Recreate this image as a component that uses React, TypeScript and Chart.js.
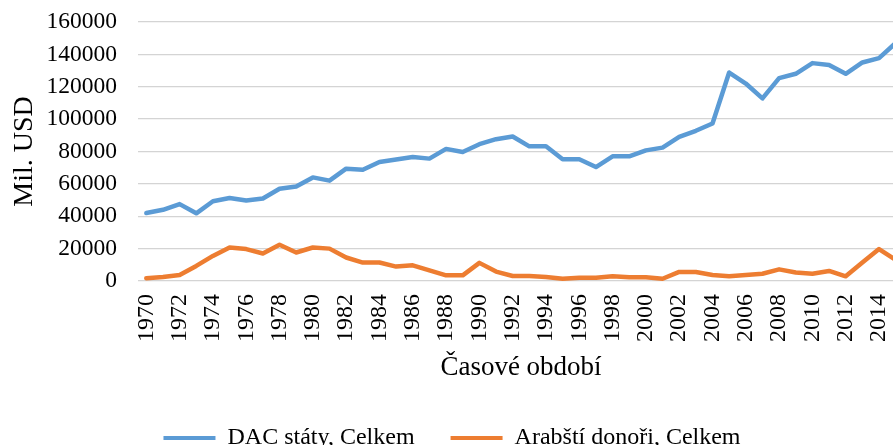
import React, { useEffect, useRef } from 'react';
import { Chart, registerables } from 'chart.js';

Chart.register(...registerables);

const years = [
  '1970', '1971', '1972', '1973', '1974', '1975', '1976', '1977', '1978', '1979',
  '1980', '1981', '1982', '1983', '1984', '1985', '1986', '1987', '1988', '1989',
  '1990', '1991', '1992', '1993', '1994', '1995', '1996', '1997', '1998', '1999',
  '2000', '2001', '2002', '2003', '2004', '2005', '2006', '2007', '2008', '2009',
  '2010', '2011', '2012', '2013', '2014', '2015',
];

const dacValues = [
  42000, 44000, 47500, 41800, 49300, 51300, 49700, 51000, 57000, 58400,
  64000, 62000, 69400, 68700, 73500, 75000, 76600, 75600, 81600, 79700,
  84500, 87600, 89300, 83200, 83200, 75200, 75200, 70400, 77000, 77000,
  80700, 82400, 89000, 92800, 97300, 128800, 122000, 112800, 125300, 128000,
  134600, 133500, 128000, 135000, 137700, 147000,
];

const arabValues = [
  1700, 2500, 3700, 9300, 15500, 20700, 19700, 17000, 22400, 17600,
  20700, 20000, 14500, 11400, 11400, 8900, 9700, 6600, 3500, 3500,
  11200, 5800, 3100, 3100, 2500, 1400, 2000, 2000, 2900, 2300,
  2300, 1400, 5600, 5600, 3700, 2900, 3700, 4500, 7200, 5200,
  4500, 6200, 2900, 11400, 19700, 13000,
];

const seriesNames = ['DAC státy, Celkem', 'Arabští donoři, Celkem'];
const seriesColors = ['#5B9BD5', '#ED7D31'];

const yMin = 0;
const yMax = 160000;
const yStep = 20000;

const xTitle = 'Časové období';
const yTitle = 'Mil. USD';

const FONT = "'Liberation Serif', 'Times New Roman', serif";

export default function App() {
  const ref = useRef<HTMLCanvasElement>(null);

  useEffect(() => {
    if (!ref.current) return;
    const chart = new Chart(ref.current, {
      type: 'line',
      data: {
        labels: years,
        datasets: [
          {
            label: seriesNames[0],
            data: dacValues,
            borderColor: seriesColors[0],
            backgroundColor: seriesColors[0],
            borderWidth: 4.5,
            pointRadius: 0,
            tension: 0,
            borderJoinStyle: 'round',
            borderCapStyle: 'round',
          },
          {
            label: seriesNames[1],
            data: arabValues,
            borderColor: seriesColors[1],
            backgroundColor: seriesColors[1],
            borderWidth: 4.5,
            pointRadius: 0,
            tension: 0,
            borderJoinStyle: 'round',
            borderCapStyle: 'round',
          },
        ],
      },
      options: {
        responsive: false,
        animation: false,
        layout: { padding: { top: 22, left: 0, right: 6, bottom: 0 } },
        plugins: {
          tooltip: { enabled: false },
          legend: {
            position: 'bottom',
            labels: {
              font: { family: FONT, size: 24 },
              color: '#000',
              boxWidth: 52,
              boxHeight: 4,
              padding: 36,
              generateLabels: (c: any) =>
                Chart.defaults.plugins.legend.labels.generateLabels(c).map((l: any) => ({
                  ...l,
                  lineWidth: 0,
                  fillStyle: l.strokeStyle,
                })),
            },
          },
        },
        scales: {
          x: {
            type: 'category',
            offset: true,
            grid: { display: false, drawTicks: false },
            border: { display: false },
            ticks: {
              autoSkip: false,
              minRotation: 90,
              maxRotation: 90,
              padding: 13,
              color: '#000',
              font: { family: FONT, size: 24 },
              callback: (_v: any, i: number) => (i % 2 === 0 ? years[i] : ''),
            },
            title: {
              display: true,
              text: xTitle,
              color: '#000',
              font: { family: FONT, size: 27 },
              padding: { top: 4, bottom: 6 },
            },
            afterFit: (s: any) => {
              s.height = 109;
              s.paddingLeft = 0;
              s.paddingRight = 0;
            },
          },
          y: {
            min: yMin,
            max: yMax,
            grid: { color: '#D4D4D4', lineWidth: 1.3, drawTicks: false },
            border: { display: false },
            ticks: {
              stepSize: yStep,
              padding: 21,
              color: '#000',
              font: { family: FONT, size: 23.5 },
              callback: (v: any) => String(v),
            },
            title: {
              display: true,
              text: yTitle,
              color: '#000',
              font: { family: FONT, size: 28 },
              padding: { top: 8, bottom: 0 },
            },
            afterFit: (s: any) => {
              s.width = 138;
              s.paddingTop = 0;
              s.paddingBottom = 0;
            },
          },
        },
      },
    });
    return () => chart.destroy();
  }, []);

  return (
    <div
      style={{
        position: 'fixed',
        left: 0,
        top: 0,
        width: 893,
        height: 445,
        overflow: 'hidden',
        background: '#fff',
      }}
    >
      <canvas ref={ref} width={910} height={460} style={{ display: 'block' }} />
    </div>
  );
}
